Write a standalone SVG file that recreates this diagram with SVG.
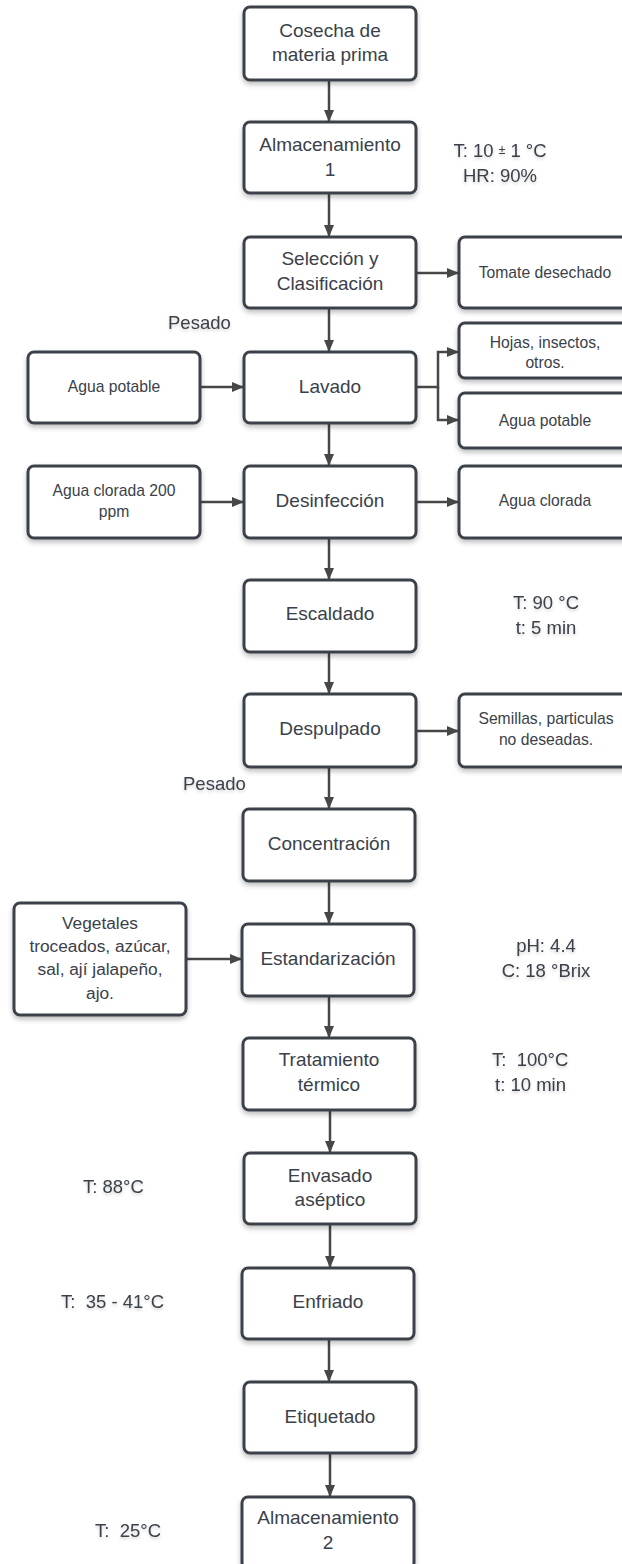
<svg xmlns="http://www.w3.org/2000/svg" width="622" height="1564" viewBox="0 0 622 1564">
<defs>
<filter id="sh" x="-10%" y="-10%" width="130%" height="140%">
<feDropShadow dx="0" dy="3" stdDeviation="2.5" flood-color="#000" flood-opacity="0.25"/>
</filter>
<filter id="tsh" x="-10%" y="-20%" width="130%" height="160%">
<feDropShadow dx="0" dy="2" stdDeviation="1.5" flood-color="#000" flood-opacity="0.18"/>
</filter>
<marker id="ah" viewBox="0 0 12 10" refX="12" refY="5" markerWidth="12" markerHeight="10" markerUnits="userSpaceOnUse" orient="auto">
<path d="M0,0 L12,5 L0,10 Z" fill="#474747"/>
</marker>
</defs>
<style>
rect.b{fill:#fff;stroke:#3a414a;stroke-width:3;filter:url(#sh)}
text{font-family:"Liberation Sans",Arial,sans-serif;fill:#3a414a;dominant-baseline:central;white-space:pre}
.m{font-size:19px;text-anchor:middle}
.s{font-size:15.7px;text-anchor:middle}
.v{font-size:17.3px;text-anchor:middle}
.a{font-size:18.5px;filter:url(#tsh)}
.c{text-anchor:middle}
#conn path{fill:none;stroke:#474747;stroke-width:2.5}
</style>
<rect width="622" height="1564" fill="#fff"/>

<g id="conn">
<path d="M329,80 V122" marker-end="url(#ah)"/>
<path d="M329,193 V237" marker-end="url(#ah)"/>
<path d="M416,273 H459" marker-end="url(#ah)"/>
<path d="M329,308 V352" marker-end="url(#ah)"/>
<path d="M200,387 H244" marker-end="url(#ah)"/>
<path d="M416,387 H438 V352 H459" marker-end="url(#ah)"/>
<path d="M438,387 V420 H459" marker-end="url(#ah)"/>
<path d="M329,423 V466" marker-end="url(#ah)"/>
<path d="M200,502 H244" marker-end="url(#ah)"/>
<path d="M416,502 H459" marker-end="url(#ah)"/>
<path d="M329,538 V580" marker-end="url(#ah)"/>
<path d="M329,652 V694" marker-end="url(#ah)"/>
<path d="M416,731 H459" marker-end="url(#ah)"/>
<path d="M329,767 V809" marker-end="url(#ah)"/>
<path d="M329,881 V924" marker-end="url(#ah)"/>
<path d="M186,959 H242" marker-end="url(#ah)"/>
<path d="M329,996 V1038" marker-end="url(#ah)"/>
<path d="M330,1110 V1153" marker-end="url(#ah)"/>
<path d="M330,1224 V1268" marker-end="url(#ah)"/>
<path d="M329,1339 V1382" marker-end="url(#ah)"/>
<path d="M330,1453 V1497" marker-end="url(#ah)"/>
</g>

<g id="cosecha"><rect class="b" x="244" y="7" width="172" height="73" rx="6"/><text class="m" x="330" y="30">Cosecha de</text><text class="m" x="330" y="54">materia prima</text></g>
<g id="alm1"><rect class="b" x="244" y="122" width="172" height="71" rx="6"/><text class="m" x="330" y="144">Almacenamiento</text><text class="m" x="330" y="169">1</text></g>
<g id="ann-alm1"><text class="a c" x="500" y="150">T: 10 <tspan font-size="12">±</tspan> 1 °C</text><text class="a c" x="500" y="175">HR: 90%</text></g>
<g id="seleccion"><rect class="b" x="244" y="237" width="172" height="71" rx="6"/><text class="m" x="330" y="258">Selección y</text><text class="m" x="330" y="283">Clasificación</text></g>
<g id="tomate"><rect class="b" x="459" y="237" width="172" height="71" rx="6"/><text class="s" x="545" y="272">Tomate desechado</text></g>
<g id="pesado1"><text class="a" x="168" y="322">Pesado</text></g>
<g id="agua-in"><rect class="b" x="28" y="352" width="172" height="71" rx="6"/><text class="s" x="114" y="386">Agua potable</text></g>
<g id="lavado"><rect class="b" x="244" y="352" width="172" height="71" rx="6"/><text class="m" x="330" y="386">Lavado</text></g>
<g id="hojas"><rect class="b" x="459" y="323" width="172" height="55" rx="6"/><text class="s" x="545" y="342">Hojas, insectos,</text><text class="s" x="545" y="362">otros.</text></g>
<g id="agua-out"><rect class="b" x="459" y="393" width="172" height="55" rx="6"/><text class="s" x="545" y="420">Agua potable</text></g>
<g id="clorada-in"><rect class="b" x="28" y="466" width="172" height="72" rx="6"/><text class="s" x="114" y="490">Agua clorada 200</text><text class="s" x="114" y="511">ppm</text></g>
<g id="desinfeccion"><rect class="b" x="244" y="466" width="172" height="72" rx="6"/><text class="m" x="330" y="500">Desinfección</text></g>
<g id="clorada-out"><rect class="b" x="459" y="466" width="172" height="72" rx="6"/><text class="s" x="545" y="500">Agua clorada</text></g>
<g id="escaldado"><rect class="b" x="244" y="580" width="172" height="72" rx="6"/><text class="m" x="330" y="613">Escaldado</text></g>
<g id="ann-escaldado"><text class="a c" x="546" y="602">T: 90 °C</text><text class="a c" x="546" y="627">t: 5 min</text></g>
<g id="despulpado"><rect class="b" x="244" y="694" width="172" height="73" rx="6"/><text class="m" x="330" y="728">Despulpado</text></g>
<g id="semillas"><rect class="b" x="459" y="694" width="172" height="73" rx="6"/><text class="s" x="546" y="718">Semillas, particulas</text><text class="s" x="546" y="739">no deseadas.</text></g>
<g id="pesado2"><text class="a" x="183" y="783">Pesado</text></g>
<g id="concentracion"><rect class="b" x="243" y="809" width="172" height="72" rx="6"/><text class="m" x="329" y="843">Concentración</text></g>
<g id="vegetales"><rect class="b" x="14" y="903" width="172" height="112" rx="6"/><text class="v" x="100" y="923">Vegetales</text><text class="v" x="100" y="946">troceados, azúcar,</text><text class="v" x="100" y="969">sal, ají jalapeño,</text><text class="v" x="100" y="993">ajo.</text></g>
<g id="estandarizacion"><rect class="b" x="242" y="924" width="172" height="72" rx="6"/><text class="m" x="328" y="958">Estandarización</text></g>
<g id="ann-estand"><text class="a c" x="546" y="945">pH: 4.4</text><text class="a c" x="546" y="970">C: 18 °Brix</text></g>
<g id="tratamiento"><rect class="b" x="243" y="1038" width="172" height="72" rx="6"/><text class="m" x="329" y="1059">Tratamiento</text><text class="m" x="329" y="1084">térmico</text></g>
<g id="ann-trat"><text class="a" x="492" y="1059">T:  100°C</text><text class="a" x="495" y="1084">t: 10 min</text></g>
<g id="envasado"><rect class="b" x="244" y="1153" width="172" height="71" rx="6"/><text class="m" x="330" y="1175">Envasado</text><text class="m" x="330" y="1199">aséptico</text></g>
<g id="ann-env"><text class="a" x="83" y="1186">T: 88°C</text></g>
<g id="enfriado"><rect class="b" x="242" y="1268" width="172" height="71" rx="6"/><text class="m" x="328" y="1301">Enfriado</text></g>
<g id="ann-enf"><text class="a" x="61" y="1301">T:  35 - 41°C</text></g>
<g id="etiquetado"><rect class="b" x="244" y="1382" width="172" height="71" rx="6"/><text class="m" x="330" y="1416">Etiquetado</text></g>
<g id="alm2"><rect class="b" x="242" y="1497" width="172" height="72" rx="6"/><text class="m" x="328" y="1517">Almacenamiento</text><text class="m" x="328" y="1542">2</text></g>
<g id="ann-alm2"><text class="a" x="95" y="1530">T:  25°C</text></g>
</svg>
